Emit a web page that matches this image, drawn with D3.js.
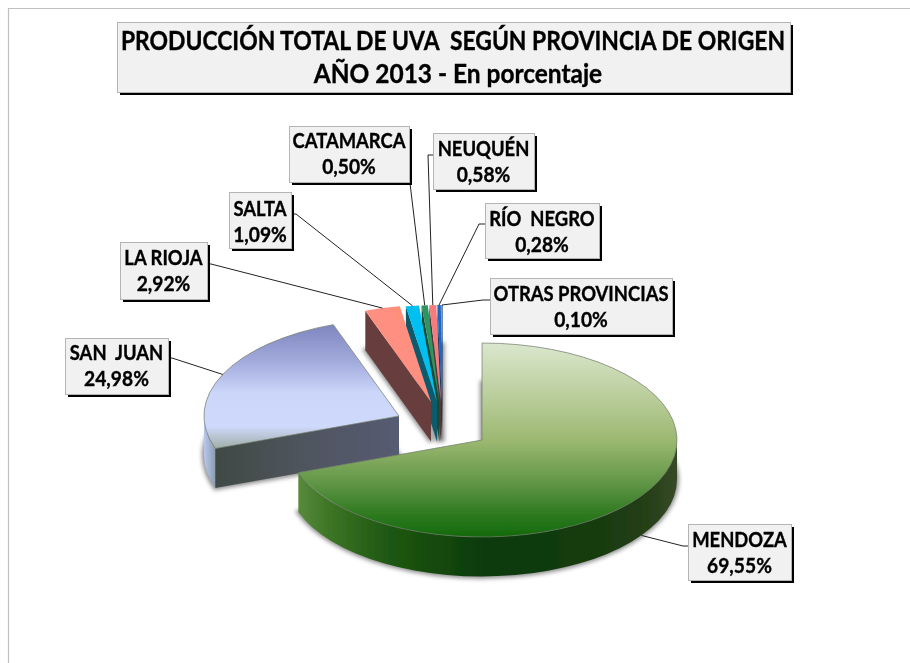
<!DOCTYPE html>
<html><head><meta charset="utf-8">
<script src="https://cdnjs.cloudflare.com/ajax/libs/d3/7.8.5/d3.min.js"></script>
<style>html,body{margin:0;padding:0;background:#fff}svg{display:block}text{font-family:Lato,"Open Sans",sans-serif;font-weight:700;fill:#000;stroke:#000;stroke-width:.35px;white-space:pre}</style>
</head><body><div id="chart"></div>
<script>
const provinces = ["MENDOZA","SAN  JUAN","LA RIOJA","SALTA","CATAMARCA","NEUQUÉN","RÍO  NEGRO","OTRAS PROVINCIAS"];
const shares = [69.55,24.98,2.92,1.09,0.50,0.58,0.28,0.10];
const titleLines = ["PRODUCCIÓN TOTAL DE UVA  SEGÚN PROVINCIA DE ORIGEN","AÑO 2013 - En porcentaje"];

// layout and style, kept apart from the values
const W=910,H=663, rx=195, ry=97, depth=39.5;
const pivotX=[482,399,431,437,439.5,441,442,442.6];
const pivotY=[440,416,402,402,402,402,402,402];
const topFills=["url(#gMendoza)","url(#gSanJuan)","url(#gRioja)","#00c0f2","#2f9462","#f47c7c","#1668c4","#1c3f80"];
const faceFills=["none","url(#gSanJuanFace)","#673c3c","#0a5a6c","#1f4a30","#54343a","#0d3a6b","#2a2a2a"];
const wallFills=["url(#gMendozaWall)","url(#gSanJuanWall)","#673c3c","#0a5a6c","#1f4a30","#54343a","#0d3a6b","#2a2a2a"];
const boxX=[688,65,120,229,289,433,485,490], boxY=[524,338,242,192,126,133,203,278];
const boxW=[103,103,87,62,120,101,114,182], boxH=[56,56,57,56,56,56,55,56];
const baseline1=[547,360,265,216,148,156,226,301];
const elbows=[[[688,546],[683,546]],[[168,358],[172,358]],[[207,264],[211,264]],[[291,214],[296,214]],[[409,175]],[[433,155],[428,155]],[[485,224],[479,224]],[[490,300],[483,300]]];

const svg=d3.select("#chart").append("svg").attr("width",W).attr("height",H);
const defs=svg.append("defs");
function grad(id,dir,stops){
  const g=defs.append("linearGradient").attr("id",id).attr("x1",dir[0]).attr("y1",dir[1]).attr("x2",dir[2]).attr("y2",dir[3]);
  stops.forEach(s=>g.append("stop").attr("offset",s[0]).attr("stop-color",s[1]));
}
grad("gMendoza",[0,0,0,1],[[0,"#dae7cd"],[.25,"#bdd0a0"],[.5,"#9cb871"],[.72,"#619647"],[.88,"#2f7a20"],[1,"#136a0c"]]);
grad("gSanJuan",[0,0,0,1],[[0,"#7f85bf"],[.3,"#a3abdc"],[.55,"#cbd6f9"],[.82,"#cfd9fb"],[1,"#9faea6"]]);
grad("gRioja",[1,0,.45,.55],[[0,"#f79646"],[.3,"#fb9164"],[.6,"#ff8f80"],[1,"#ff8f80"]]);
grad("gSanJuanFace",[0,0,1,0],[[0,"#3f4a44"],[.5,"#50555f"],[1,"#565b72"]]);
grad("gMendozaWall",[0,0,1,0],[[0,"#588a3c"],[.08,"#3e7526"],[.22,"#215a13"],[.5,"#0a3a07"],[.78,"#153a0e"],[.92,"#263f18"],[1,"#364a28"]]);
grad("gSanJuanWall",[0,0,1,0],[[0,"#b9c7ee"],[1,"#8b9cae"]]);
const blur=defs.append("filter").attr("id","soft").attr("filterUnits","userSpaceOnUse").attr("x",0).attr("y",0).attr("width",W).attr("height",H);
blur.append("feGaussianBlur").attr("stdDeviation",2);
const haze=defs.append("filter").attr("id","haze").attr("filterUnits","userSpaceOnUse").attr("x",0).attr("y",0).attr("width",W).attr("height",H);
haze.append("feGaussianBlur").attr("stdDeviation",.35);

const root=svg.append("g").attr("filter","url(#haze)");
// frame lines
root.append("path").attr("d",`M8.5,${H}V8.5H${W}`).attr("fill","none").attr("stroke","#c0c0c0").attr("stroke-width",1.2);

const slices=d3.pie().sort(null).startAngle(0).endAngle(2*Math.PI)(shares);
const arcGen=d3.arc().innerRadius(0).outerRadius(1);
const pt=(i,t,dz=0)=>[pivotX[i]+rx*Math.sin(t),pivotY[i]-ry*Math.cos(t)+dz];
const order=[7,6,5,4,3,2,1,0];

const tr=(i,dz=0)=>`translate(${pivotX[i]},${pivotY[i]+dz}) scale(${rx},${ry})`;
// soft shadow: the slice's floor, blurred
root.append("g").attr("filter","url(#soft)").selectAll("path").data(order).join("path")
  .attr("d",i=>arcGen(slices[i])).attr("transform",i=>tr(i,depth))
  .attr("fill","#8c8c8c").attr("stroke","#8c8c8c").attr("stroke-width",4)
  .style("vector-effect","non-scaling-stroke");

const gPie=root.append("g");
order.forEach(i=>{
  const s=slices[i], g=gPie.append("g");
  // outer wall, only the part that faces the viewer
  const a=Math.max(s.startAngle,Math.PI/2), b=Math.min(s.endAngle,1.5*Math.PI);
  if(b>a){
    const p0=pt(i,a),p1=pt(i,b),p2=pt(i,b,depth),p3=pt(i,a,depth);
    g.append("path").attr("d",`M${p0}A${rx},${ry} 0 0 1 ${p1}L${p2}A${rx},${ry} 0 0 0 ${p3}Z`)
      .attr("fill",wallFills[i]);
  }
  // cut face at the start of the slice
  if(i>0){
    const p=pt(i,s.startAngle),c=[pivotX[i],pivotY[i]];
    g.append("path").attr("d",d3.line()([p,c,[c[0],c[1]+depth],[p[0],p[1]+depth]])).attr("fill",faceFills[i]);
  }
  // top
  g.append("path").attr("d",arcGen(s)).attr("transform",tr(i)).attr("fill",topFills[i])
    .style("vector-effect","non-scaling-stroke")
    .attr("stroke",i<2?"#6f7a6a":"none").attr("stroke-width",i<2?.7:0);
});

// leaders
const lineGen=d3.line();
const gLead=root.append("g");
slices.forEach((s,i)=>{
  const mid=(s.startAngle+s.endAngle)/2;
  const end=pt(i,mid,i===0?depth:0);
  gLead.append("path").attr("d",lineGen([...elbows[i],end])).attr("fill","none").attr("stroke","#222").attr("stroke-width",1);
});

function box(g,x,y,w,h){
  g.append("rect").attr("x",x+3).attr("y",y+3).attr("width",w).attr("height",h).attr("fill","#000");
  g.append("rect").attr("x",x+.5).attr("y",y+.5).attr("width",w).attr("height",h).attr("fill","#f1f1f1").attr("stroke","#b4b4b4").attr("stroke-width",1);
}
function squeezed(g,x,y,size,k,str){
  const t=g.append("text").attr("x",x).attr("y",y).attr("text-anchor","middle").attr("font-size",size).text(str);
  t.attr("textLength",t.node().getComputedTextLength()*k).attr("lengthAdjust","spacingAndGlyphs");
  return t;
}
// title
const gTitle=root.append("g");
box(gTitle,117,22,673,70);
squeezed(gTitle,453,50,26,.88,titleLines[0]);
squeezed(gTitle,458,83,26,.94,titleLines[1]);

// labels
const pct=v=>v.toFixed(2).replace(".",",")+"%";
const gLab=root.append("g");
provinces.forEach((name,i)=>{
  const g=gLab.append("g");
  box(g,boxX[i],boxY[i],boxW[i],boxH[i]);
  const cx=boxX[i]+boxW[i]/2;
  squeezed(g,cx,baseline1[i],20,.92,name);
  squeezed(g,cx,baseline1[i]+26,20,.96,pct(shares[i]));
});
</script></body></html>
